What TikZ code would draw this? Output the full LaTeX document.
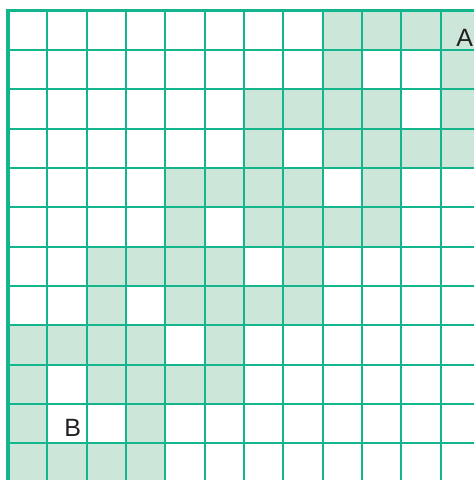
\documentclass[tikz,border=0pt]{standalone}
\usepackage{fontspec}
\setmainfont{Liberation Sans}
\definecolor{gridgreen}{HTML}{12B58C}
\definecolor{cellfill}{HTML}{CCE6DA}
\definecolor{labelink}{HTML}{231F20}
\tikzset{
  cellbox/.style={fill=cellfill},
  gridline/.style={draw=gridgreen, line width=2pt},
  borderline/.style={draw=gridgreen, line width=3.4pt},
  cornerlabel/.style={font=\fontsize{25}{25}\selectfont, text=labelink, inner sep=0pt}
}
\begin{document}
\begin{tikzpicture}[x=1pt,y=-1pt]
\useasboundingbox (0,0) rectangle (474,480);
\clip (0,0) rectangle (474,480);
\def\pit{39.33}
% shaded cells (row/col)
\foreach \r/\c in {0/8,0/9,0/10,0/11,
                   1/8,1/11,
                   2/6,2/7,2/8,2/9,2/11,
                   3/6,3/8,3/9,3/10,3/11,
                   4/4,4/5,4/6,4/7,4/9,
                   5/4,5/6,5/7,5/8,5/9,
                   6/2,6/3,6/4,6/5,6/7,
                   7/2,7/4,7/5,7/6,7/7,
                   8/0,8/1,8/2,8/3,8/5,
                   9/0,9/2,9/3,9/4,9/5,
                   10/0,10/3,
                   11/0,11/1,11/2,11/3}
  \fill[cellbox] ({8+\c*\pit},{10.7+\r*\pit}) rectangle ++(\pit,\pit);
% grid lines
\foreach \i in {1,...,12} {
  \draw[gridline] ({8+\i*\pit},10.7) -- ({8+\i*\pit},500);
  \draw[gridline] (8,{10.7+\i*\pit}) -- (500,{10.7+\i*\pit});
}
\draw[borderline] (8,500) -- (8,10.7) -- (500,10.7);
% labels
\node[cornerlabel] (A) at (464.8,38) {A};
\node[cornerlabel] (B) at (72.8,428) {B};
\end{tikzpicture}
\end{document}
